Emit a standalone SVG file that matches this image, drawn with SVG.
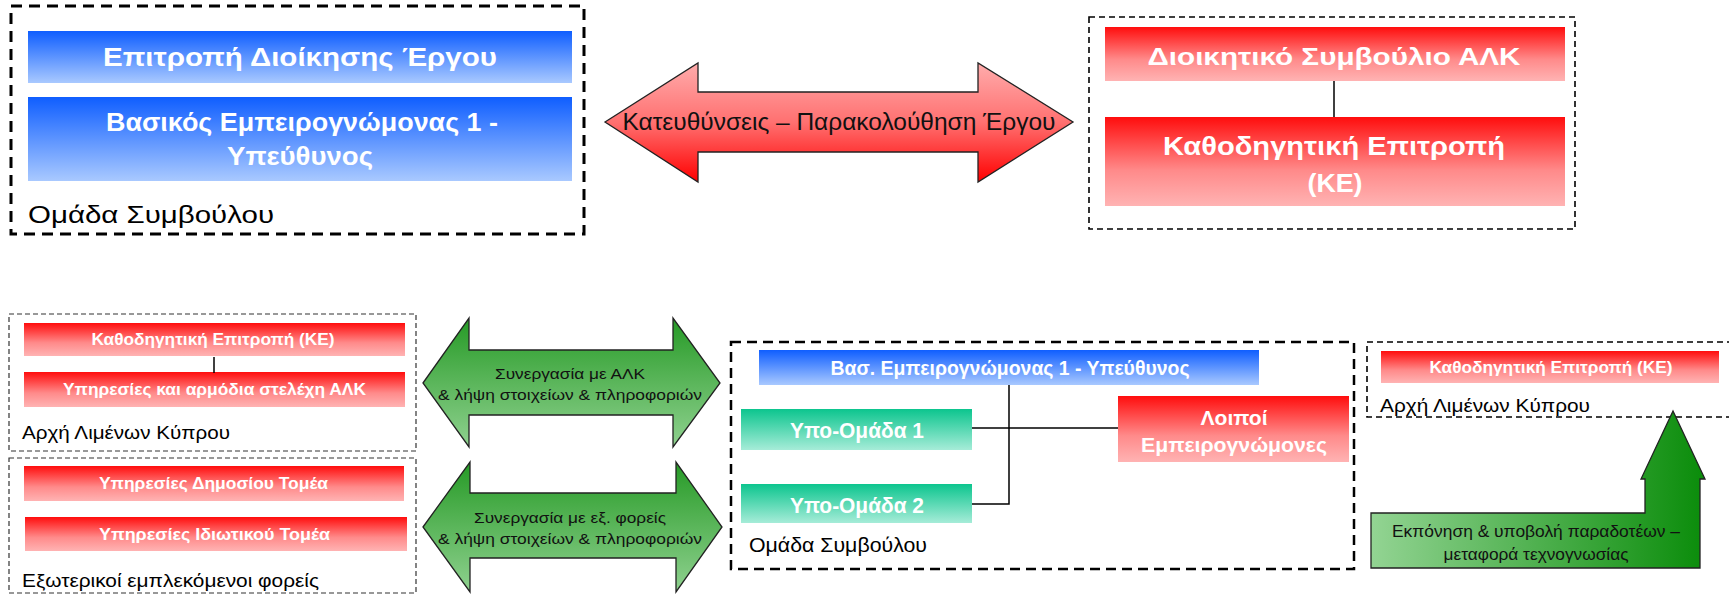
<svg xmlns="http://www.w3.org/2000/svg" width="1729" height="594" viewBox="0 0 1729 594">
<defs>
<linearGradient id="gBlue" x1="0" y1="0" x2="0" y2="1"><stop offset="0" stop-color="#0f5eff"/><stop offset="1" stop-color="#a9c9ff"/></linearGradient>
<linearGradient id="gRed" x1="0" y1="0" x2="0" y2="1"><stop offset="0" stop-color="#ff0d0d"/><stop offset="0.6" stop-color="#ff8a8a"/><stop offset="1" stop-color="#ffb3b3"/></linearGradient>
<linearGradient id="gTeal" x1="0" y1="0" x2="0" y2="1"><stop offset="0" stop-color="#0cc58e"/><stop offset="1" stop-color="#a6ecd8"/></linearGradient>
<linearGradient id="gRedArrow" x1="0" y1="0" x2="0" y2="1"><stop offset="0" stop-color="#ffacac"/><stop offset="0.5" stop-color="#ff7070"/><stop offset="1" stop-color="#ff0000"/></linearGradient>
<linearGradient id="gGreenArrow" x1="0" y1="0" x2="0" y2="1"><stop offset="0" stop-color="#269a26"/><stop offset="1" stop-color="#8fd18f"/></linearGradient>
<linearGradient id="gGreenBent" x1="0" y1="0" x2="1" y2="0"><stop offset="0" stop-color="#93d493"/><stop offset="1" stop-color="#0a8c0a"/></linearGradient>
<style>
.t{font-family:"Liberation Sans",Arial,sans-serif}
.wb{fill:#fff;font-weight:bold;text-anchor:middle}
.lbl{fill:#000}
.thick{fill:none;stroke:#000;stroke-width:3;stroke-dasharray:11 7}
.mid{fill:none;stroke:#000;stroke-width:1.6;stroke-dasharray:6 4}
.thin{fill:none;stroke:#333;stroke-width:1.2;stroke-dasharray:5 3}
.arr{stroke:#222;stroke-width:1.3}
.con{fill:none;stroke:#000;stroke-width:1.5}
.at{fill:#111;text-anchor:middle}
</style>
</defs>

<g id="group-top-left">
<rect class="thick" x="11" y="6" width="573" height="228"/>
<text class="t lbl" x="28" y="223" font-size="24.5" textLength="246" lengthAdjust="spacingAndGlyphs">Ομάδα Συμβούλου</text>
</g>
<g id="node-epitropi-dioikisis">
<rect x="28" y="31" width="544" height="52" fill="url(#gBlue)"/>
<text class="t wb" x="300" y="66" font-size="25" textLength="394" lengthAdjust="spacingAndGlyphs">Επιτροπή Διοίκησης Έργου</text>
</g>
<g id="node-vasikos-empeirognomonas">
<rect x="28" y="97" width="544" height="84" fill="url(#gBlue)"/>
<text class="t wb" x="302" y="131" font-size="25" textLength="392" lengthAdjust="spacingAndGlyphs">Βασικός Εμπειρογνώμονας 1 -</text>
<text class="t wb" x="300" y="165" font-size="25" textLength="146" lengthAdjust="spacingAndGlyphs">Υπεύθυνος</text>
</g>

<g id="arrow-kateythynseis">
<polygon class="arr" fill="url(#gRedArrow)" points="605,122 698,63 698,92 978,92 978,63 1073,122 978,182 978,152 698,152 698,182"/>
<text class="t at" x="839" y="130" font-size="24" textLength="433" lengthAdjust="spacingAndGlyphs">Κατευθύνσεις – Παρακολούθηση Έργου</text>
</g>

<g id="group-top-right">
<rect class="mid" x="1089" y="17" width="486" height="212"/>
</g>
<g id="node-dioikitiko-symvoulio">
<rect x="1105" y="27" width="460" height="54" fill="url(#gRed)"/>
<text class="t wb" x="1334" y="65" font-size="24.5" textLength="373" lengthAdjust="spacingAndGlyphs">Διοικητικό Συμβούλιο ΑΛΚ</text>
</g>
<g id="node-kathodigitiki-top">
<rect x="1105" y="117" width="460" height="89" fill="url(#gRed)"/>
<text class="t wb" x="1334" y="155" font-size="25" textLength="342" lengthAdjust="spacingAndGlyphs">Καθοδηγητική Επιτροπή</text>
<text class="t wb" x="1335" y="192" font-size="25" textLength="55" lengthAdjust="spacingAndGlyphs">(ΚΕ)</text>
</g>

<g id="group-alk">
<rect class="thin" x="9" y="314" width="407" height="137"/>
<text class="t lbl" x="22" y="439" font-size="18" textLength="208" lengthAdjust="spacingAndGlyphs">Αρχή Λιμένων Κύπρου</text>
</g>
<g id="node-ke-left">
<rect x="24" y="323" width="381" height="33" fill="url(#gRed)"/>
<text class="t wb" x="213" y="345" font-size="16" textLength="243" lengthAdjust="spacingAndGlyphs">Καθοδηγητική Επιτροπή (ΚΕ)</text>
</g>
<g id="node-ypiresies-alk">
<rect x="24" y="372" width="381" height="35" fill="url(#gRed)"/>
<text class="t wb" x="214.5" y="395" font-size="16" textLength="303" lengthAdjust="spacingAndGlyphs">Υπηρεσίες και αρμόδια στελέχη ΑΛΚ</text>
</g>

<g id="group-external">
<rect class="thin" x="9" y="458" width="407" height="135"/>
<text class="t lbl" x="22" y="587" font-size="18" textLength="297" lengthAdjust="spacingAndGlyphs">Εξωτερικοί εμπλεκόμενοι φορείς</text>
</g>
<g id="node-dimosiou">
<rect x="24" y="466" width="380" height="35" fill="url(#gRed)"/>
<text class="t wb" x="213.5" y="489" font-size="16" textLength="229" lengthAdjust="spacingAndGlyphs">Υπηρεσίες Δημοσίου Τομέα</text>
</g>
<g id="node-idiotikou">
<rect x="25" y="517" width="382" height="34" fill="url(#gRed)"/>
<text class="t wb" x="214.5" y="540" font-size="16" textLength="231" lengthAdjust="spacingAndGlyphs">Υπηρεσίες Ιδιωτικού Τομέα</text>
</g>

<g id="arrow-synergasia-alk">
<polygon class="arr" fill="url(#gGreenArrow)" points="423,383 469,318 469,350 673,350 673,318 720,383 673,447 673,415 469,415 469,447"/>
<text class="t at" x="570" y="379" font-size="15.5" textLength="150" lengthAdjust="spacingAndGlyphs">Συνεργασία με ΑΛΚ</text>
<text class="t at" x="570" y="400" font-size="15.5" textLength="264" lengthAdjust="spacingAndGlyphs">&amp; λήψη στοιχείων &amp; πληροφοριών</text>
</g>
<g id="arrow-synergasia-ext">
<polygon class="arr" fill="url(#gGreenArrow)" points="423,527 470,462 470,493 676,493 676,462 722,527 676,592 676,558 470,558 470,592"/>
<text class="t at" x="570" y="523" font-size="15.5" textLength="192" lengthAdjust="spacingAndGlyphs">Συνεργασία με εξ. φορείς</text>
<text class="t at" x="570" y="544" font-size="15.5" textLength="264" lengthAdjust="spacingAndGlyphs">&amp; λήψη στοιχείων &amp; πληροφοριών</text>
</g>

<g id="group-omada-bottom">
<rect class="thick" style="stroke-width:2.5;stroke-dasharray:10 6" x="731" y="342" width="623" height="227"/>
<text class="t lbl" x="749" y="552" font-size="19.5" textLength="178" lengthAdjust="spacingAndGlyphs">Ομάδα Συμβούλου</text>
</g>
<g id="node-vas-empeirognomonas">
<rect x="759" y="350" width="500" height="35" fill="url(#gBlue)"/>
<text class="t wb" x="1010" y="375" font-size="20" textLength="359" lengthAdjust="spacingAndGlyphs">Βασ. Εμπειρογνώμονας 1 - Υπεύθυνος</text>
</g>
<g id="node-ypo-omada-1">
<rect x="741" y="409" width="231" height="41" fill="url(#gTeal)"/>
<text class="t wb" x="857" y="438" font-size="22" textLength="134" lengthAdjust="spacingAndGlyphs">Υπο-Ομάδα 1</text>
</g>
<g id="node-ypo-omada-2">
<rect x="741" y="484" width="231" height="39" fill="url(#gTeal)"/>
<text class="t wb" x="857" y="513" font-size="22" textLength="134" lengthAdjust="spacingAndGlyphs">Υπο-Ομάδα 2</text>
</g>
<g id="node-loipoi">
<rect x="1118" y="396" width="231" height="66" fill="url(#gRed)"/>
<text class="t wb" x="1234" y="425" font-size="21" textLength="67" lengthAdjust="spacingAndGlyphs">Λοιποί</text>
<text class="t wb" x="1234" y="452" font-size="21" textLength="186" lengthAdjust="spacingAndGlyphs">Εμπειρογνώμονες</text>
</g>

<g id="group-alk-right">
<rect class="mid" x="1367" y="342" width="370" height="75"/>
<text class="t lbl" x="1380" y="412" font-size="18" textLength="210" lengthAdjust="spacingAndGlyphs">Αρχή Λιμένων Κύπρου</text>
</g>
<g id="node-ke-right">
<rect x="1381" y="351" width="338" height="32" fill="url(#gRed)"/>
<text class="t wb" x="1551" y="373" font-size="16" textLength="243" lengthAdjust="spacingAndGlyphs">Καθοδηγητική Επιτροπή (ΚΕ)</text>
</g>

<g id="arrow-ekponisi">
<polygon class="arr" fill="url(#gGreenBent)" points="1371,513 1645,513 1645,479 1641,479 1673,411 1705,479 1700,479 1700,568 1371,568"/>
<text class="t at" x="1536" y="537" font-size="16.5" textLength="288" lengthAdjust="spacingAndGlyphs">Εκπόνηση &amp; υποβολή παραδοτέων –</text>
<text class="t at" x="1536" y="560" font-size="16.5" textLength="185" lengthAdjust="spacingAndGlyphs">μεταφορά τεχνογνωσίας</text>
</g>

<g id="connectors">
<line class="con" x1="1334" y1="81" x2="1334" y2="117"/>
<line class="con" x1="214" y1="357" x2="214" y2="373"/>
<polyline class="con" points="1009,385 1009,504 972,504"/>
<line class="con" x1="972" y1="428" x2="1118" y2="428"/>
</g>
</svg>
